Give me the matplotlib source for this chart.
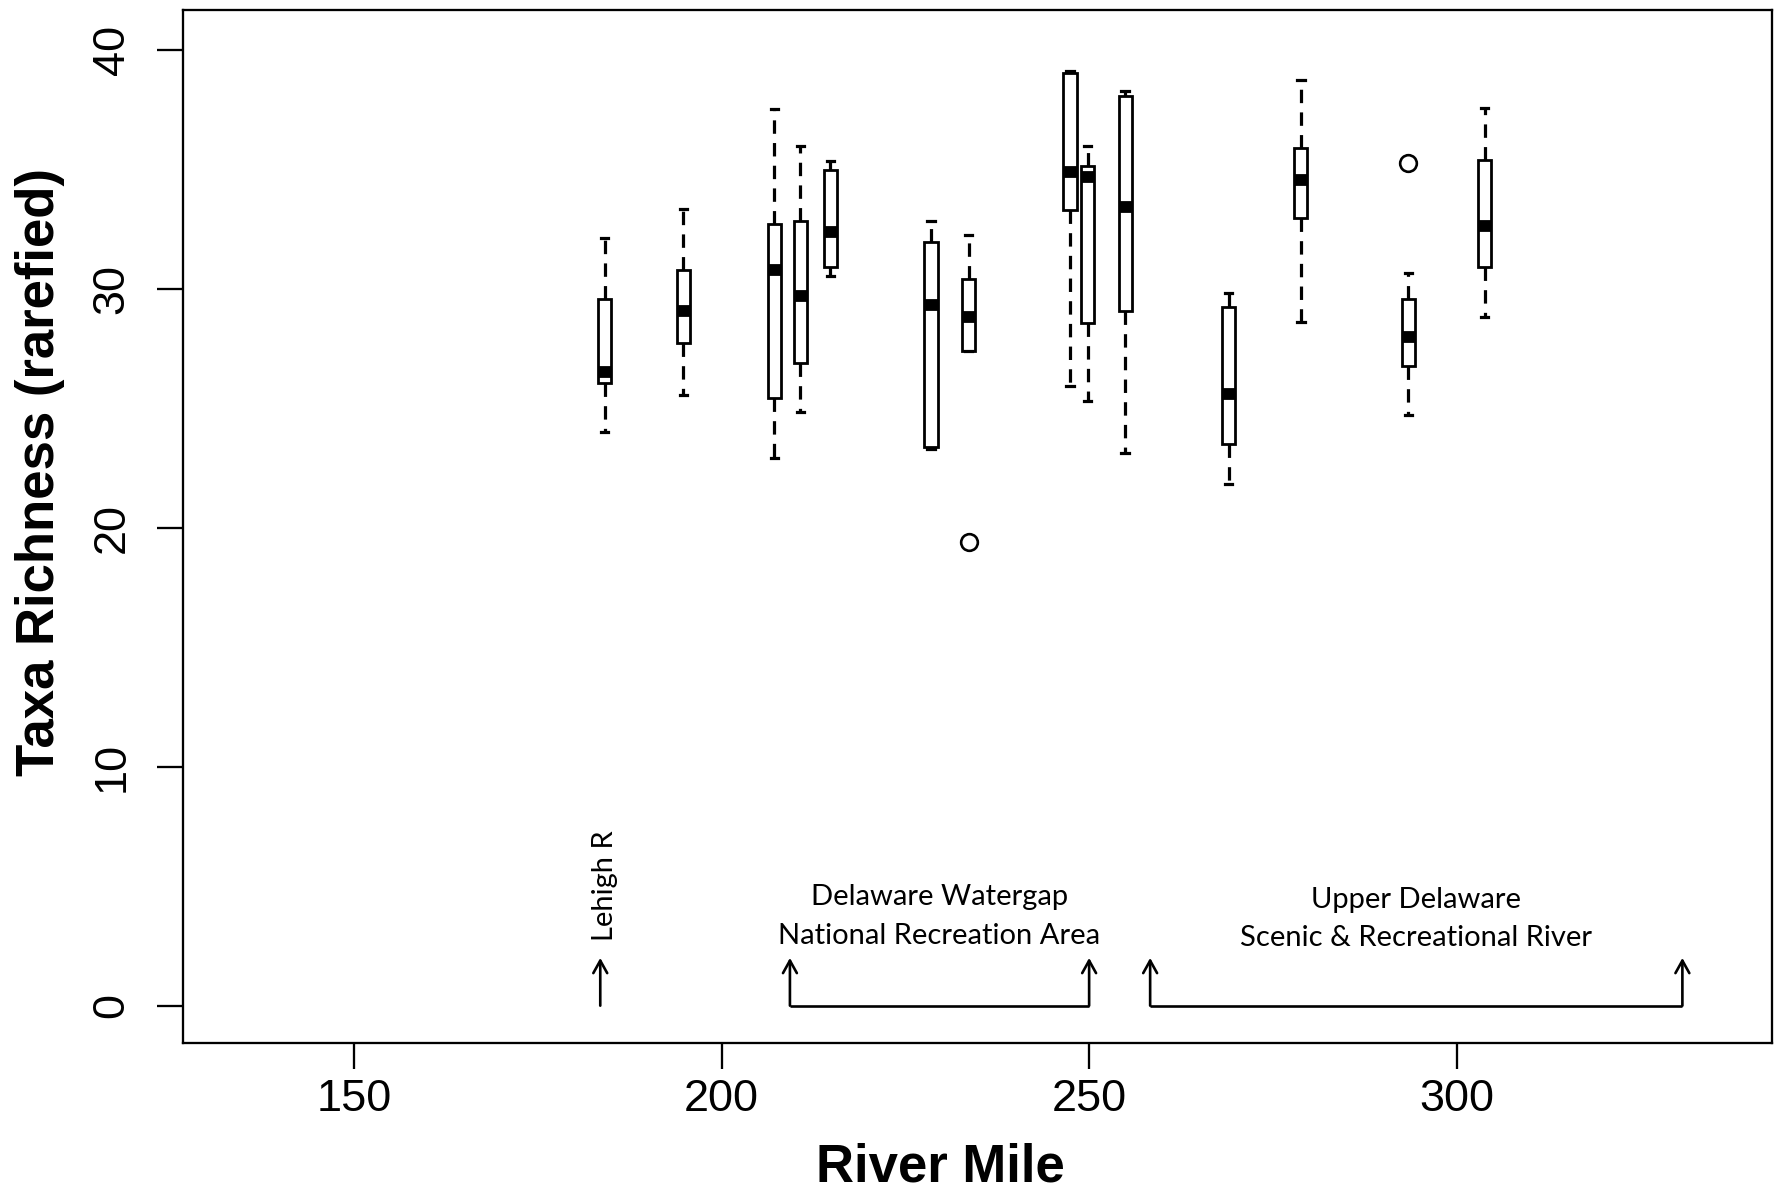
import matplotlib
matplotlib.use('Agg')
import matplotlib.pyplot as plt

# sites along the river (river mile) and their box statistics
river_mile = [184.1, 194.8, 207.2, 210.7, 214.8, 228.5, 233.6,
              247.4, 249.8, 254.9, 269.0, 278.8, 293.4, 303.8]
whisk_lo = [24.0, 25.56, 22.91, 24.84, 30.54, 23.29, 27.38,
            25.94, 25.32, 23.15, 21.83, 28.61, 24.73, 28.84]
q1 = [26.08, 27.73, 25.42, 26.89, 30.91, 23.37, 27.38,
      33.31, 28.59, 29.09, 23.5, 32.98, 26.79, 30.91]
median = [26.54, 29.09, 30.8, 29.68, 32.36, 29.33, 28.84,
          34.91, 34.7, 33.44, 25.59, 34.56, 28.0, 32.61]
q3 = [29.58, 30.8, 32.72, 32.85, 34.97, 31.98, 30.42,
      39.05, 35.15, 38.08, 29.22, 35.89, 29.58, 35.4]
whisk_hi = [32.12, 33.34, 37.54, 35.97, 35.35, 32.82, 32.26,
            39.12, 35.99, 38.3, 29.82, 38.75, 30.66, 37.56]
outliers = [[], [], [], [], [], [], [19.4],
            [], [], [], [], [], [35.26], []]

# annotation ranges (river mile)
lehigh_mile = 183.5
watergap_range = [209.3, 250.0]
upper_range = [258.3, 330.7]

plt.rcParams['font.family'] = ['Liberation Sans', 'DejaVu Sans']

fig = plt.figure(figsize=(17.79, 11.91), dpi=100)
ax = fig.add_axes([0.1027, 0.1245, 0.8932, 0.8671])

stats = []
for i in range(len(river_mile)):
    stats.append(dict(whislo=whisk_lo[i], q1=q1[i], med=median[i], q3=q3[i],
                      whishi=whisk_hi[i], fliers=outliers[i]))

ax.bxp(stats, positions=river_mile, widths=1.8, capwidths=1.0,
       patch_artist=True, manage_ticks=False,
       boxprops=dict(facecolor='white', edgecolor='black', linewidth=2.0),
       medianprops=dict(color='black', linewidth=8.5, solid_capstyle='butt'),
       whiskerprops=dict(color='black', linewidth=2.3, linestyle=(0, (4.2, 2.9))),
       capprops=dict(color='black', linewidth=2.3),
       flierprops=dict(marker='o', markersize=12, markerfacecolor='none',
                       markeredgecolor='black', markeredgewidth=1.9))

# arrows / brackets
arrow = dict(arrowstyle='->,head_length=0.45,head_width=0.25', lw=1.9,
             color='black', shrinkA=0, shrinkB=0, mutation_scale=20)
ax.annotate('', xy=(lehigh_mile, 2.0), xytext=(lehigh_mile, 0), arrowprops=arrow)
for rng in (watergap_range, upper_range):
    ax.plot(rng, [0, 0], color='black', lw=1.9, solid_capstyle='butt')
    for x in rng:
        ax.annotate('', xy=(x, 2.0), xytext=(x, 0), arrowprops=arrow)

note_font = dict(family=['Lato', 'DejaVu Sans'], fontsize=21, color='black')
ax.text(184.2, 2.7, 'Lehigh R', rotation=90, ha='center', va='bottom', **note_font)
mid = sum(watergap_range) / 2
ax.text(mid, 4.2, 'Delaware Watergap', ha='center', va='baseline', **note_font)
ax.text(mid, 2.6, 'National Recreation Area', ha='center', va='baseline', **note_font)
mid = sum(upper_range) / 2
ax.text(mid, 4.1, 'Upper Delaware', ha='center', va='baseline', **note_font)
ax.text(mid, 2.5, 'Scenic & Recreational River', ha='center', va='baseline', **note_font)

ax.set_xlim(126.7, 342.85)
ax.set_ylim(-1.55, 41.67)
ax.set_xticks([150, 200, 250, 300])
ax.set_yticks([0, 10, 20, 30, 40])
ax.tick_params(direction='out', length=19, width=1.65, labelsize=32.5, pad=7)
ax.tick_params(axis='y', pad=17)
plt.setp(ax.get_yticklabels(), rotation=90, va='center')
for s in ax.spines.values():
    s.set_linewidth(1.65)

fig.text(0.5284, 0.0076, 'River Mile', fontsize=38, fontweight='bold',
         ha='center', va='baseline')
fig.text(0.0225, 0.6033, 'Taxa Richness (rarefied)', fontsize=38, fontweight='bold',
         rotation=90, ha='center', va='center')

fig.savefig('out.png', dpi=100)
